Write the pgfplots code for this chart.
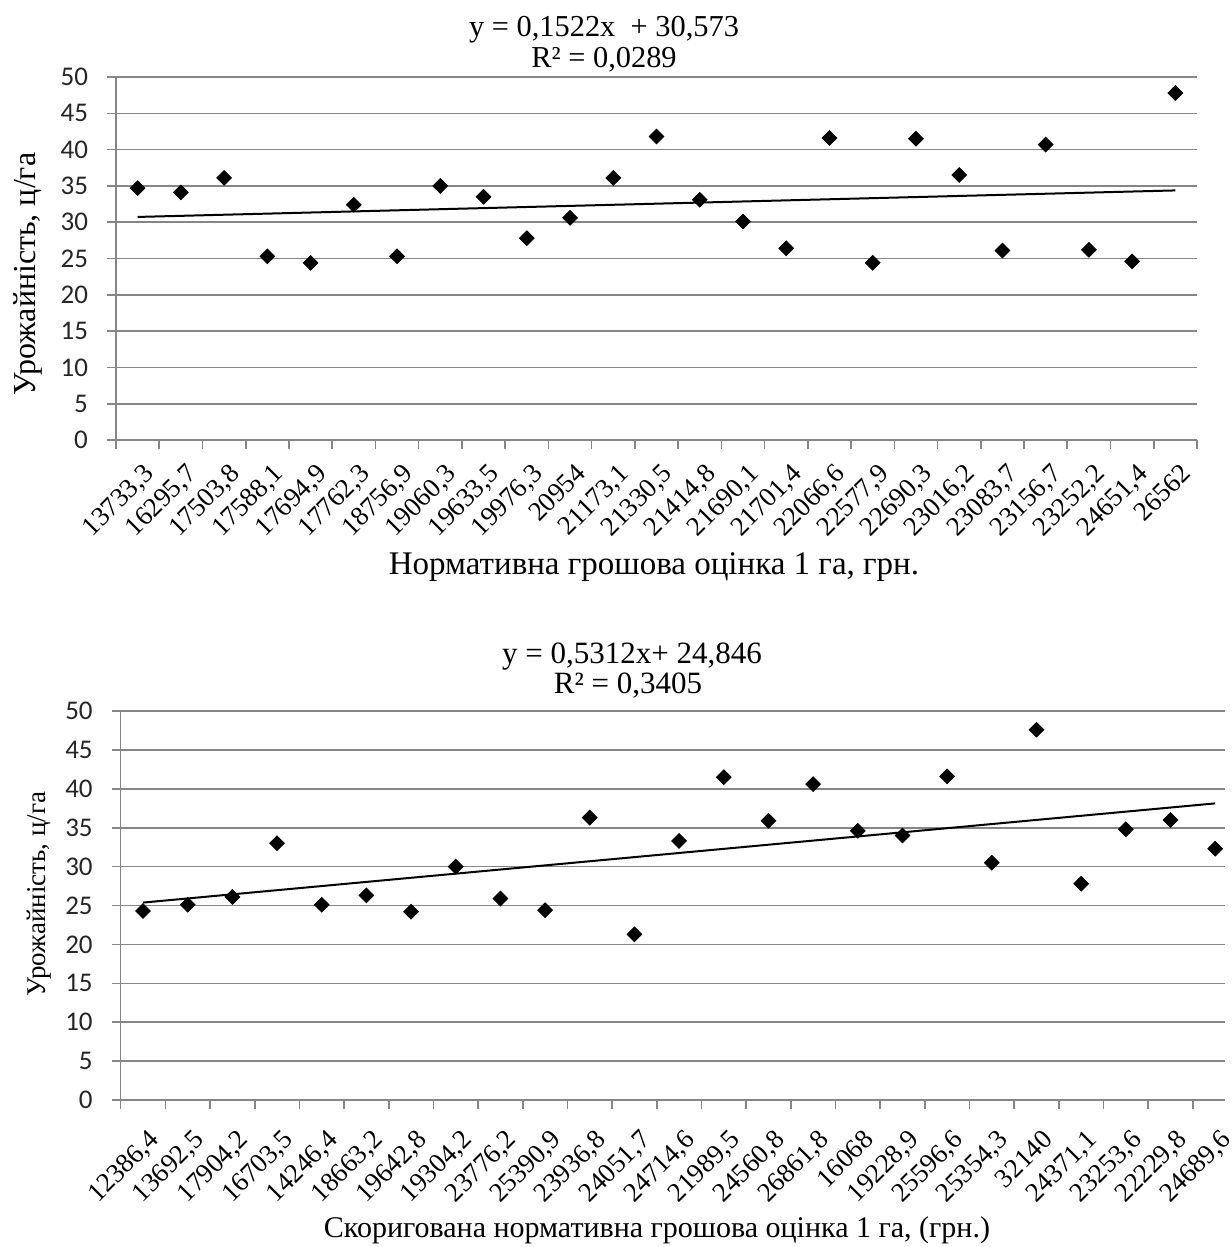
\documentclass[border=0pt]{standalone}
\usepackage{fontspec}
\setmainfont{Liberation Serif}
\newfontfamily\carlito{Carlito}
\newfontfamily\tnr{Liberation Serif}
\usepackage{pgfplots}
\pgfplotsset{compat=1.18}
\definecolor{gridgray}{RGB}{134,134,134}

\pgfplotsset{excelstyle/.style={
  scale only axis,
  anchor=south west,
  axis lines=left,
  axis line style={-, gridgray, line width=0.8pt},
  xmin=-0.5,
  ymin=0, ymax=50, ytick={0,5,...,50},
  ymajorgrids, grid style={gridgray, line width=0.8pt},
  tick align=outside,
  major tick length=4.5pt,
  tick style={gridgray, line width=0.8pt},
  xtick={-0.5,0.5,...,24.5},
  xticklabel={\mbox{}},
  extra x ticks={0.1,1.1,...,24.1},
  extra x tick style={major tick length=0pt, tick style={draw=none},
     xticklabel style={rotate=45, anchor=north east, inner sep=0pt, font=\tnr\fontsize{13.5}{15}\selectfont}},
  yticklabel style={font=\carlito\fontsize{13.5}{15}\selectfont, anchor=east, text=black!85, xshift=-6pt},
  /pgf/number format/assume math mode=true,
  clip=false,
}}

\pgfplotstableread{
x y
0 34.7
1 34.1
2 36.1
3 25.3
4 24.4
5 32.4
6 25.3
7 35.0
8 33.5
9 27.8
10 30.6
11 36.1
12 41.8
13 33.1
14 30.1
15 26.4
16 41.6
17 24.4
18 41.5
19 36.5
20 26.1
21 40.7
22 26.2
23 24.6
24 47.8
}\topdata

\pgfplotstableread{
x y
0 24.3
1 25.1
2 26.1
3 33.0
4 25.1
5 26.3
6 24.2
7 30.0
8 25.9
9 24.4
10 36.3
11 21.3
12 33.3
13 41.5
14 35.9
15 40.6
16 34.6
17 34.0
18 41.6
19 30.5
20 47.6
21 27.8
22 34.8
23 36.0
24 32.3
}\botdata

\newcommand\xl[1]{{\tnr\fontsize{13.5}{15}\selectfont #1}}

\begin{document}
\begin{tikzpicture}
\path[use as bounding box] (0,0) rectangle (615.5pt,-623.5pt);

% ---------- top chart ----------
\begin{axis}[excelstyle,
  at={(58pt,-220pt)}, width=540.5pt, height=181.5pt,
  xmax=24.5,
  xticklabel shift=11pt,
  extra x tick labels={\xl{13733,3},\xl{16295,7},\xl{17503,8},\xl{17588,1},\xl{17694,9},\xl{17762,3},\xl{18756,9},\xl{19060,3},\xl{19633,5},\xl{19976,3},\xl{20954},\xl{21173,1},\xl{21330,5},\xl{21414,8},\xl{21690,1},\xl{21701,4},\xl{22066,6},\xl{22577,9},\xl{22690,3},\xl{23016,2},\xl{23083,7},\xl{23156,7},\xl{23252,2},\xl{24651,4},\xl{26562}},
]
\addplot[black, line width=1pt] coordinates {(0,30.725) (24,34.378)};
\addplot[only marks, mark=square*, mark size=2.6pt, mark options={rotate=45, fill=black, draw=black}] table[x=x,y=y] {\topdata};
\end{axis}

\node[anchor=base, font=\fontsize{15.2}{17}\selectfont] at (302pt,-18.5pt) {y = 0,1522x \ + 30,573};
\node[anchor=base, font=\fontsize{15.2}{17}\selectfont] at (302pt,-34pt) {R² = 0,0289};
\node[anchor=base, font=\fontsize{16.5}{18}\selectfont] at (327pt,-287pt) {Нормативна грошова оцінка 1 га, грн.};
\node[rotate=90, font=\fontsize{16}{18}\selectfont] at (14pt,-137pt) {Урожайність, ц/га};

% ---------- bottom chart ----------
\begin{axis}[excelstyle,
  at={(60.35pt,-550pt)}, width=552.15pt, height=194.5pt,
  xmax=24.22,
  xticklabel shift=14pt,
  extra x tick labels={\xl{12386,4},\xl{13692,5},\xl{17904,2},\xl{16703,5},\xl{14246,4},\xl{18663,2},\xl{19642,8},\xl{19304,2},\xl{23776,2},\xl{25390,9},\xl{23936,8},\xl{24051,7},\xl{24714,6},\xl{21989,5},\xl{24560,8},\xl{26861,8},\xl{16068},\xl{19228,9},\xl{25596,6},\xl{25354,3},\xl{32140},\xl{24371,1},\xl{23253,6},\xl{22229,8},\xl{24689,6}},
]
\addplot[black, line width=1pt] coordinates {(0,25.377) (24,38.127)};
\addplot[only marks, mark=square*, mark size=2.6pt, mark options={rotate=45, fill=black, draw=black}] table[x=x,y=y] {\botdata};
\end{axis}

\node[anchor=base, font=\fontsize{15.5}{17}\selectfont] at (316pt,-331.5pt) {y = 0,5312x+ 24,846};
\node[anchor=base, font=\fontsize{15.5}{17}\selectfont] at (314pt,-346.5pt) {R² = 0,3405};
\node[anchor=base, font=\fontsize{15}{17}\selectfont] at (328.5pt,-618.5pt) {Скоригована нормативна грошова оцінка 1 га, (грн.)};
\node[rotate=90, font=\fontsize{13.5}{16}\selectfont] at (19.5pt,-447pt) {Урожайність, ц/га};
\end{tikzpicture}
\end{document}
